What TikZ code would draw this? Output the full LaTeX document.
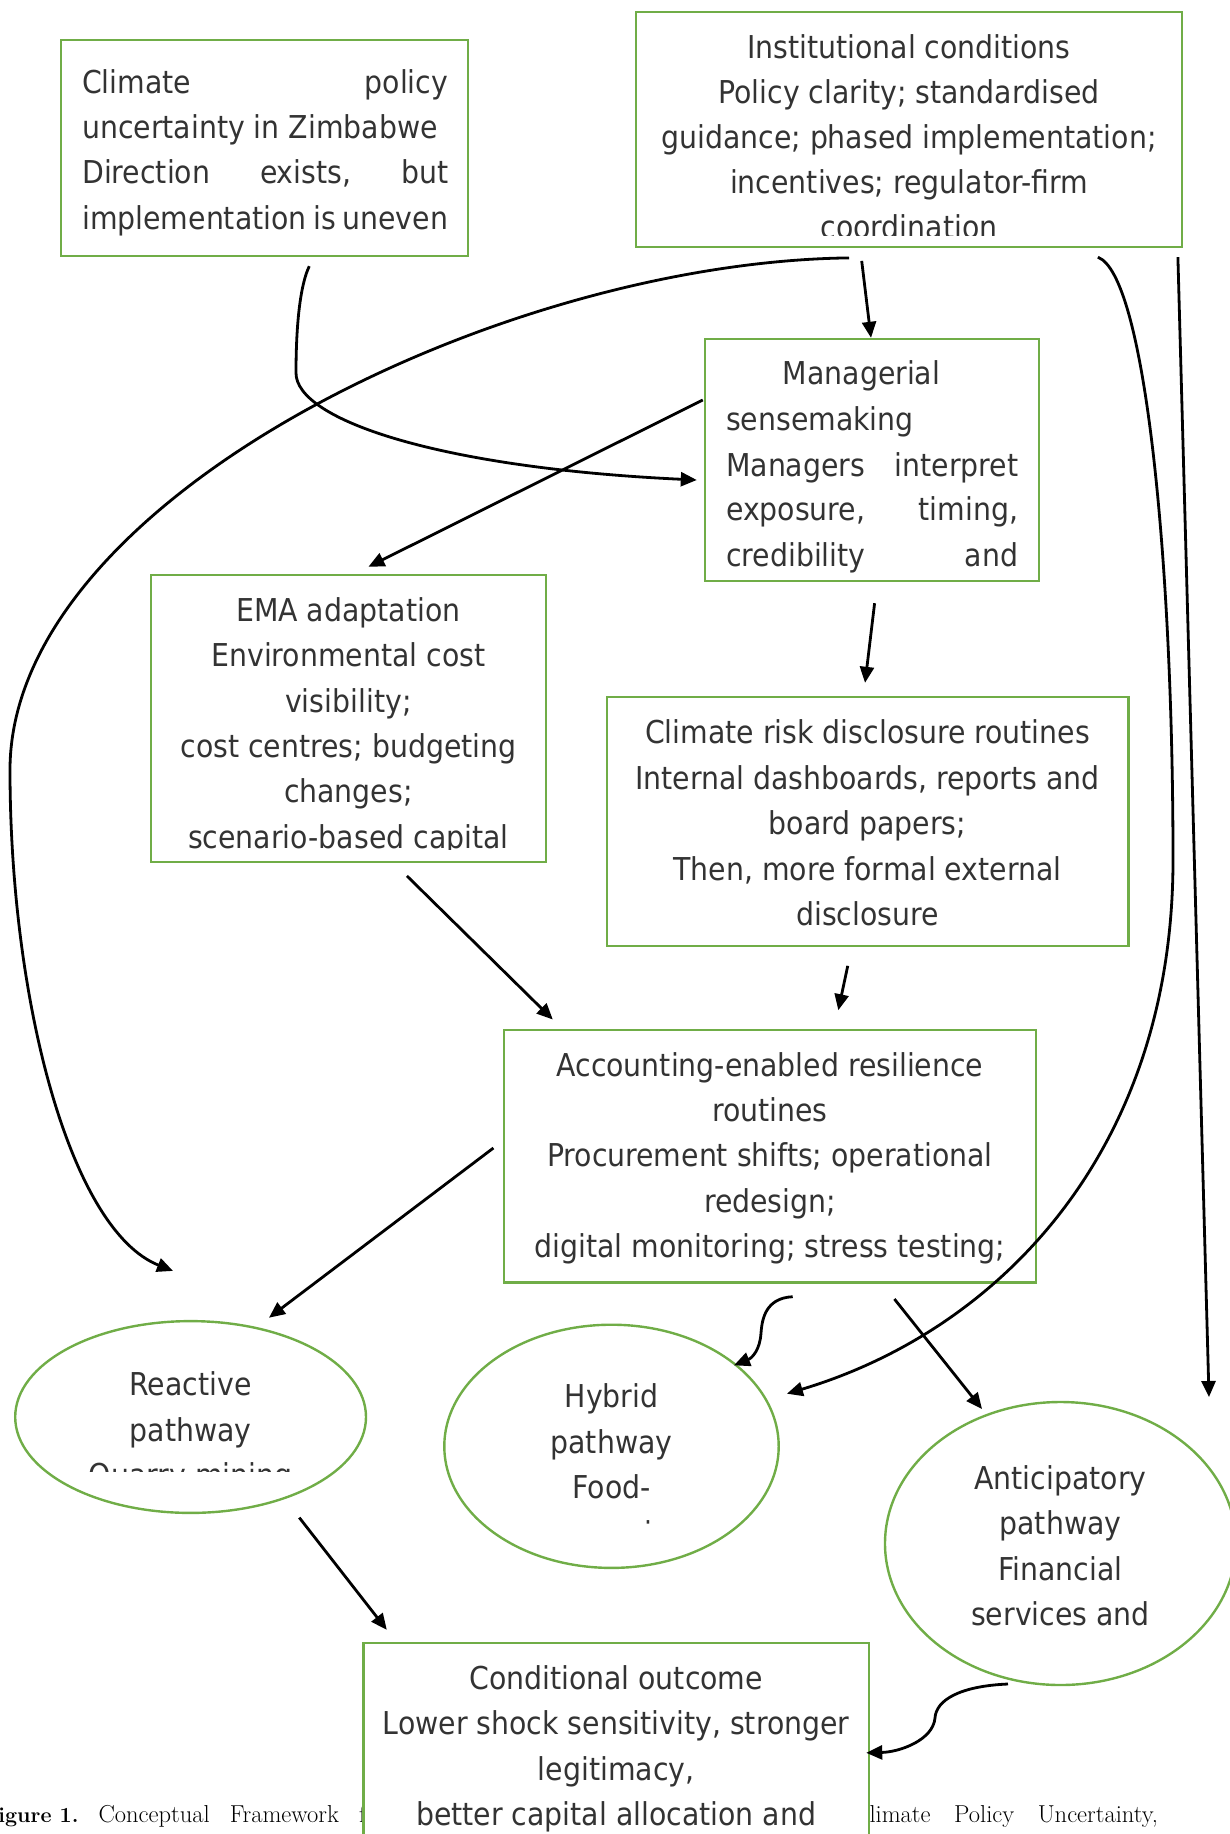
\documentclass[tikz,border=0pt]{standalone}
\usepackage{fontspec}
\usetikzlibrary{arrows.meta,shapes.geometric,calc}
\newfontfamily\tah{DejaVu Sans Condensed}
\definecolor{grn}{HTML}{70AD47}
\definecolor{tgray}{HTML}{333333}
\tikzset{
 box/.style={draw=grn, line width=2.4pt, inner sep=0pt, rectangle},
 ell/.style={draw=grn, line width=2.4pt, inner sep=0pt, ellipse},
 txt/.style={font=\tah\fontsize{31.5}{40}\selectfont, text=tgray, inner sep=0pt, anchor=base},
 txtl/.style={txt, anchor=base west},
 arr/.style={line width=2.8pt, -{Triangle[length=16pt,width=14pt]}},
 captxt/.style={font=\rmfamily\fontsize{24.5}{28}\selectfont, inner sep=0pt, anchor=base west},
}
\begin{document}
\begin{tikzpicture}[x=1pt,y=-1pt]
\useasboundingbox (0,0) rectangle (1230,1834);
\clip (0,0) rectangle (1230,1834);

% caption (partly hidden by the outcome box)
\node[captxt] (capL) at (-17,1822) {\hbox to 382.6pt{{\bfseries\fontsize{21.5}{28}\selectfont Figure 1.}\hfill Conceptual\hfill Framework\hfill f}};
\node[captxt] (capR) at (853,1822) {\hbox to 304.7pt{Climate\hfill Policy\hfill Uncertainty,}};

% boxes
\node[box, minimum width=406.9pt, minimum height=216.2pt] (clim) at (264.25,147.9) {};
\node[box, minimum width=546pt, minimum height=235pt] (inst) at (909,129.2) {};
\node[box, minimum width=334pt, minimum height=242pt] (mgr) at (872,460) {};
\node[box, minimum width=395.2pt, minimum height=286.7pt] (ema) at (348.4,718.35) {};
\node[box, minimum width=521.5pt, minimum height=249pt] (crd) at (867.55,821.5) {};
\node[box, minimum width=532pt, minimum height=252.6pt] (acc) at (770,1156.3) {};
\node[ell, minimum width=350.8pt, minimum height=191.8pt] (react) at (190.6,1417) {};
\node[ell, minimum width=334.4pt, minimum height=243.2pt] (hyb) at (611.5,1446.3) {};
\node[ell, minimum width=351pt, minimum height=283pt] (anti) at (1060.5,1543.5) {};
\node[box, fill=white, minimum width=505.1pt, minimum height=300pt] (cond) at (616.15,1792.7) {};

% texts
\node[txtl] (c1) at (82,93) {\hbox to 366pt{Climate\hfill policy}};
\node[txtl] (c2) at (82,138.3) {uncertainty in Zimbabwe};
\node[txtl] (c3) at (82,183.6) {\hbox to 366pt{Direction\hfill exists,\hfill but}};
\node[txtl] (c4) at (82,229) {\hbox to 366pt{implementation\hfill is\hfill uneven}};

\begin{scope}
\clip (637,13) rectangle (1181,235);
\node[txt] (i1) at (909,58) {Institutional conditions};
\node[txt] (i2) at (909,103) {Policy clarity; standardised};
\node[txt] (i3) at (909,148) {guidance; phased implementation;};
\node[txt] (i4) at (909,193) {incentives; regulator-firm};
\node[txt] (i5) at (909,238) {coordination};
\end{scope}

\node[txtl] (m1) at (782.7,384) {Managerial};
\node[txtl] (m2) at (726,430) {sensemaking};
\node[txtl] (m3) at (726,476) {\hbox to 292pt{Managers\hfill interpret}};
\node[txtl] (m4) at (726,520.5) {\hbox to 292pt{exposure,\hfill timing,}};
\node[txtl] (m5) at (726,566) {\hbox to 292pt{credibility\hfill and}};

\begin{scope}
\clip (152,576) rectangle (545,849);
\node[txt] (e1) at (348.4,621) {EMA adaptation};
\node[txt] (e2) at (348.4,666.5) {Environmental cost};
\node[txt] (e3) at (348.4,712) {visibility;};
\node[txt] (e4) at (348.4,757) {cost centres; budgeting};
\node[txt] (e5) at (348.4,802.5) {changes;};
\node[txt] (e6) at (348.4,848) {scenario-based capital};
\end{scope}

\node[txt] (d1) at (867.55,743) {Climate risk disclosure routines};
\node[txt] (d2) at (867.55,789) {Internal dashboards, reports and};
\node[txt] (d3) at (867.55,834.5) {board papers;};
\node[txt] (d4) at (867.55,880) {Then, more formal external};
\node[txt] (d5) at (867.55,925) {disclosure};

\node[txt] (r1) at (770,1076) {Accounting-enabled resilience};
\node[txt] (r2) at (770,1121) {routines};
\node[txt] (r3) at (770,1166) {Procurement shifts; operational};
\node[txt] (r4) at (770,1212) {redesign;};
\node[txt] (r5) at (770,1257.5) {digital monitoring; stress testing;};

\begin{scope}
\clip (40,1340) rectangle (340,1471);
\node[txt] (p1) at (190.6,1395.5) {Reactive};
\node[txt] (p2) at (190.6,1441) {pathway};
\node[txt] (p3) at (190.6,1486.7) {Quarry mining};
\end{scope}

\begin{scope}
\clip (480,1360) rectangle (745,1524);
\node[txt] (h1) at (611.5,1407) {Hybrid};
\node[txt] (h2) at (611.5,1453) {pathway};
\node[txt] (h3) at (611.5,1498.4) {Food-};
\node[txt] (h4) at (611.5,1544) {processing};
\end{scope}

\begin{scope}
\clip (920,1440) rectangle (1200,1640);
\node[txt] (n1) at (1060.5,1489) {Anticipatory};
\node[txt] (n2) at (1060.5,1534.7) {pathway};
\node[txt] (n3) at (1060.5,1580) {Financial};
\node[txt] (n4) at (1060.5,1625) {services and};
\end{scope}

\node[txt] (o1) at (616.15,1689) {Conditional outcome};
\node[txt] (o2) at (616.15,1734.6) {Lower shock sensitivity, stronger};
\node[txt] (o3) at (616.15,1780) {legitimacy,};
\node[txt] (o4) at (616.15,1825.6) {better capital allocation and};

% connectors
\coordinate (a6end) at (1209,1397);

\draw[arr] ($(clim.south)+(45,9)$) .. controls (298,290) and (296,340) .. (296,373)
  .. controls (296,420) and (440,468) .. ($(mgr.west)+(-7,20)$);
\draw[arr] ($(mgr.west)+(-1,-60)$) -- ($(ema.north)+(20,-7)$);
\draw[arr] ($(inst.south)+(-60,10)$) .. controls (500,262) and (10,500) .. (10,770)
  .. controls (10,1000) and (70,1230) .. ($(react.north)+(-17.6,-49)$);
\draw[arr] ($(inst.south)+(-47.3,13)$) -- ($(mgr.north)+(-1,0)$);
\draw[arr] ($(inst.south east)+(-85.3,9.3)$) .. controls (1145,275) and (1173,560) .. (1173,860)
  .. controls (1173,1150) and (1000,1330) .. ($(hyb.east)+(7,-52.6)$);
\draw[arr] ($(inst.south east)+(-5.3,9.3)$) -- (a6end);
\draw[arr] ($(mgr.south)+(2.6,21)$) -- ($(crd.north)+(-2.5,-13)$);
\draw[arr] ($(ema.south)+(58.5,13)$) -- ($(acc.north west)+(50,-9.3)$);
\draw[arr] ($(crd.south)+(-19.8,18.6)$) -- ($(acc.north)+(68.3,-18.6)$);
\draw[arr] ($(acc.west)+(-9.4,-8.3)$) -- ($(react.north)+(78.4,-2.2)$);
\draw[arr] ($(acc.south)+(22.7,12.9)$) .. controls (765,1298) and (762,1320) .. (761,1333)
  .. controls (760,1350) and (752,1358) .. ($(hyb.center)+(122.5,-81)$);
\draw[arr] ($(acc.south)+(124.4,15.2)$) -- ($(anti.center)+(-78.5,-134.5)$);
\draw[arr] ($(react.center)+(108.7,100.6)$) -- ($(cond.north west)+(24.4,-11.7)$);
\draw[arr] ($(anti.center)+(-52.5,140.5)$) .. controls (960,1686) and (936,1700) .. (935,1718)
  .. controls (933,1740) and (900,1752) .. ($(cond.north east)+(-3.7,111.3)$);
\end{tikzpicture}
\end{document}
